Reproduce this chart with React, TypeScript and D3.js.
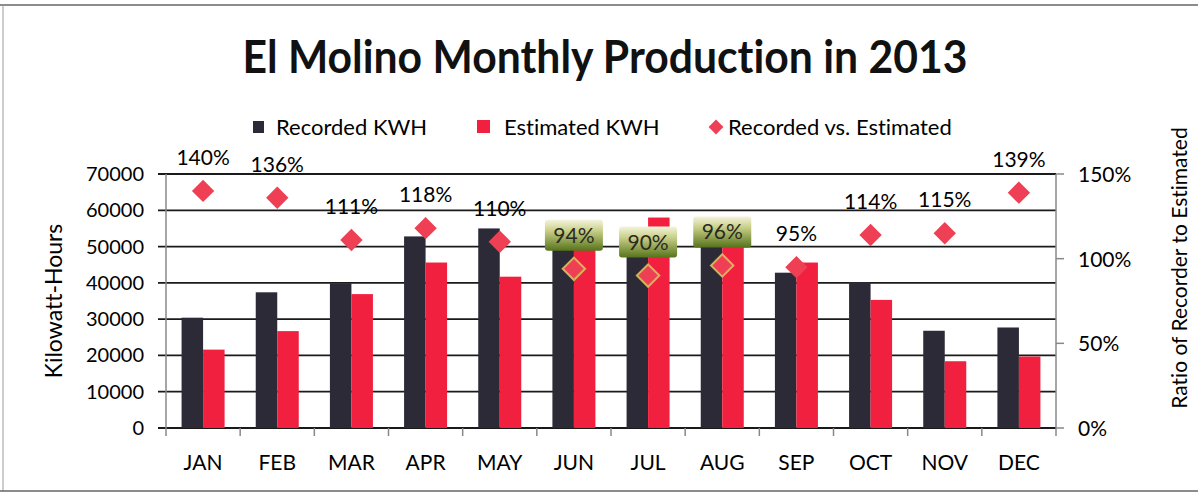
import React from 'react';
import * as d3 from 'd3';

// monthly data
const months = ['JAN', 'FEB', 'MAR', 'APR', 'MAY', 'JUN', 'JUL', 'AUG', 'SEP', 'OCT', 'NOV', 'DEC'];
const recordedKwh = [30400, 37400, 39900, 52800, 55000, 51700, 52000, 51800, 42800, 40200, 26800, 27700];
const estimatedKwh = [21600, 26700, 36900, 45600, 41700, 55000, 58000, 54000, 45600, 35300, 18400, 19700];
const ratioPct = [140, 136, 111, 118, 110, 94, 90, 96, 95, 114, 115, 139];
const boxedMonths = ['JUN', 'JUL', 'AUG'];
const leftTicks = [0, 10000, 20000, 30000, 40000, 50000, 60000, 70000];
const rightTicks = [0, 50, 100, 150];
const seriesNames = ['Recorded KWH', 'Estimated KWH'];

const W = 1198;
const H = 495;
const plot = { left: 166, right: 1056, top: 174, bottom: 428 };
const FONT = 'Lato, "Open Sans", sans-serif';
const colors = { rec: '#2c2a36', est: '#f2203f', dia: '#ee3f55' };

export default function App() {
  const x = d3
    .scaleBand<string>()
    .domain(months)
    .range([plot.left, plot.right])
    .paddingInner(0.42)
    .paddingOuter(0.21);
  const x1 = d3.scaleBand<string>().domain(seriesNames).range([0, x.bandwidth()]);
  const y = d3.scaleLinear().domain([0, 70000]).range([plot.bottom, plot.top]);
  const yR = d3.scaleLinear().domain([0, 150]).range([plot.bottom, plot.top]);
  const step = x.step();
  const diamond = d3.symbol().type(d3.symbolSquare).size(250)();
  const smallDiamond = d3.symbol().type(d3.symbolSquare).size(110)();

  return (
    <svg width={W} height={H}
      style={{ position: 'absolute', left: 0, top: 0, background: '#fff', fontVariantLigatures: 'none' }}>
      <defs>
        <linearGradient id="lblbox" x1="0" y1="0" x2="0" y2="1">
          <stop offset="0%" stopColor="#f4f4dc" />
          <stop offset="35%" stopColor="#c9cf88" />
          <stop offset="100%" stopColor="#56731a" />
        </linearGradient>
      </defs>
      {/* frame */}
      <line x1={0} x2={W} y1={5} y2={5} stroke="#666" strokeWidth={1.5} />
      <line x1={3} x2={3} y1={5} y2={491} stroke="#999" strokeWidth={1} />
      <line x1={0} x2={W} y1={491} y2={491} stroke="#666" strokeWidth={1.5} />

      <text x={605} y={73} textAnchor="middle" fontFamily={FONT} fontWeight={700} fontSize={46}
        textLength={725} lengthAdjust="spacingAndGlyphs" fill="#111">
        El Molino Monthly Production in 2013
      </text>

      {/* legend */}
      <g fontFamily={FONT} fontSize={22} fill="#000">
        <rect x={253} y={121} width={11} height={12} fill={colors.rec} />
        <text x={276} y={135}>{seriesNames[0]}</text>
        <rect x={477} y={120} width={13} height={13} fill={colors.est} />
        <text x={504} y={135}>{seriesNames[1]}</text>
        <path d={smallDiamond} transform="translate(716,127) rotate(45)" fill={colors.dia} />
        <text x={728} y={135}>Recorded vs. Estimated</text>
      </g>

      {/* gridlines + left axis */}
      {leftTicks.map((t) => (
        <g key={t}>
          <line x1={plot.left - 8} x2={plot.right} y1={y(t)} y2={y(t)} stroke="#1a1a1a" strokeWidth={1.8} />
          <text x={144} y={y(t) + 7} textAnchor="end" fontFamily={FONT} fontSize={20} fill="#000">{t}</text>
        </g>
      ))}
      <line x1={plot.left} x2={plot.left} y1={plot.top} y2={plot.bottom} stroke="#888" strokeWidth={1.5} />
      {months.map((m, i) => (
        <line key={m} x1={plot.left + i * step} x2={plot.left + i * step} y1={plot.bottom} y2={plot.bottom + 8}
          stroke="#888" strokeWidth={1.5} />
      ))}
      <line x1={plot.right} x2={plot.right} y1={plot.bottom} y2={plot.bottom + 8} stroke="#888" strokeWidth={1.5} />

      {/* bars */}
      {months.map((m, i) => (
        <g key={m}>
          <rect x={(x(m) as number) + (x1(seriesNames[0]) as number)} y={y(recordedKwh[i])}
            width={x1.bandwidth()} height={y(0) - y(recordedKwh[i])} fill={colors.rec} />
          <rect x={(x(m) as number) + (x1(seriesNames[1]) as number)} y={y(estimatedKwh[i])}
            width={x1.bandwidth()} height={y(0) - y(estimatedKwh[i])} fill={colors.est} />
        </g>
      ))}

      {/* right axis */}
      <line x1={plot.right} x2={plot.right} y1={plot.top} y2={plot.bottom} stroke="#888" strokeWidth={1.5} />
      {rightTicks.map((t) => (
        <g key={t}>
          <line x1={plot.right} x2={plot.right + 8} y1={yR(t)} y2={yR(t)} stroke="#888" strokeWidth={1.5} />
          <text x={1078} y={yR(t) + 8} fontFamily={FONT} fontSize={21} fill="#000">{t}%</text>
        </g>
      ))}

      {/* category labels */}
      {months.map((m) => (
        <text key={m} x={(x(m) as number) + x.bandwidth() / 2} y={470} textAnchor="middle"
          fontFamily={FONT} fontSize={21} fill="#000">{m}</text>
      ))}

      {/* ratio markers + labels */}
      {months.map((m, i) => {
        const cx = (x(m) as number) + x.bandwidth() / 2;
        const cy = yR(ratioPct[i]);
        const boxed = boxedMonths.includes(m);
        return (
          <g key={m}>
            <path d={diamond} transform={`translate(${cx},${cy}) rotate(45)`} fill={colors.dia}
              stroke={boxed ? '#d4b458' : 'none'} strokeWidth={2} />
            {boxed && (
              <rect x={cx - 29} y={cy - 49} width={58} height={31} rx={3} fill="url(#lblbox)" />
            )}
            <text x={cx} y={cy - 26} textAnchor="middle" fontFamily={FONT} fontSize={21}
              fill={boxed ? '#2a2a22' : '#000'}>{ratioPct[i]}%</text>
          </g>
        );
      })}

      {/* axis titles */}
      <text transform="translate(62,301) rotate(-90)" textAnchor="middle" fontFamily={FONT} fontSize={23} fill="#000">
        Kilowatt-Hours
      </text>
      <text transform="translate(1187,268) rotate(-90)" textAnchor="middle" fontFamily={FONT} fontSize={21} fill="#000">
        Ratio of Recorder to Estimated
      </text>
    </svg>
  );
}
